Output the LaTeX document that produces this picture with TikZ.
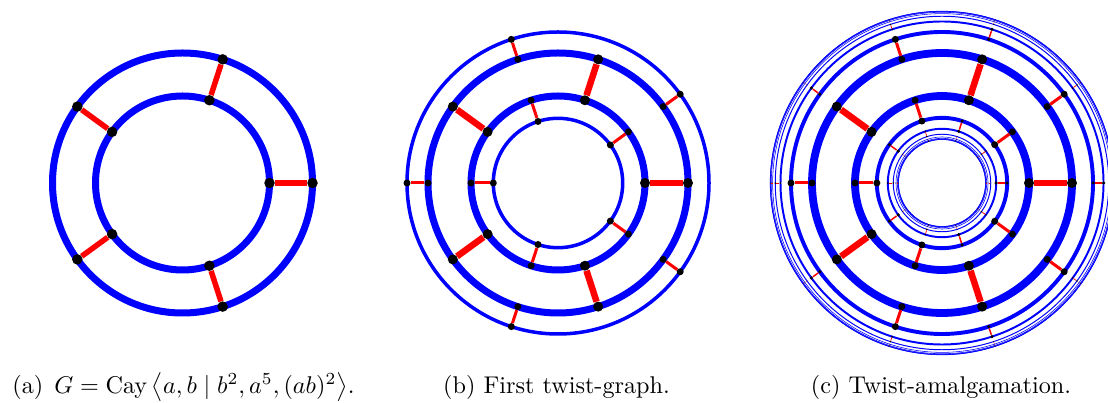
\documentclass[tikz,border=0pt]{standalone}
\tikzset{
  ring/.style={draw=blue, line width=#1},
  spoke/.style={draw=red, line width=#1},
  vdot/.style={circle, fill=black, inner sep=0pt, minimum size=#1},
  capt/.style={font=\fontsize{10}{12}\selectfont, scale=2.42, inner sep=0pt, anchor=base},
}
\begin{document}
\begin{tikzpicture}[x=1pt,y=1pt]
\useasboundingbox (0,0) rectangle (1108,403);

% ---------------- (a) ----------------
\begin{scope}[shift={(182.5,220)}]
  \draw[ring=7pt] (0,0) circle[radius=130pt];
  \draw[ring=7pt] (0,0) circle[radius=87pt];
  \foreach \j in {0,...,4}{
    \node[vdot=10.5pt] (a-O\j) at (72*\j:130pt) {};
    \node[vdot=10.5pt] (a-I\j) at (72*\j:87pt) {};
    \draw[spoke=5.5pt] (a-O\j) -- (a-I\j);
  }
\end{scope}

% ---------------- (b) ----------------
\begin{scope}[shift={(558,220)}]
  \draw[ring=7pt] (0,0) circle[radius=130pt];
  \draw[ring=7pt] (0,0) circle[radius=87pt];
  \draw[ring=3.5pt] (0,0) circle[radius=151pt];
  \draw[ring=3.5pt] (0,0) circle[radius=64.7pt];
  \foreach \j in {0,...,4}{
    \node[vdot=10pt] (b-O\j) at (72*\j:130pt) {};
    \node[vdot=10pt] (b-I\j) at (72*\j:87pt) {};
    \draw[spoke=6.5pt] (b-O\j) -- (b-I\j);
    \node[vdot=7pt] (b-Oa\j) at (36+72*\j:130pt) {};
    \node[vdot=7pt] (b-Ob\j) at (36+72*\j:151pt) {};
    \draw[spoke=3pt] (b-Oa\j) -- (b-Ob\j);
    \node[vdot=7pt] (b-Ia\j) at (36+72*\j:87pt) {};
    \node[vdot=7pt] (b-Ib\j) at (36+72*\j:64.7pt) {};
    \draw[spoke=3pt] (b-Ia\j) -- (b-Ib\j);
  }
\end{scope}

% ---------------- (c) ----------------
\begin{scope}[shift={(942,220)}]
  \foreach \k in {0,...,8}{
    \pgfmathsetmacro\R{172-42*0.5^\k}
    \pgfmathsetmacro\r{43.3+43.7*0.5^\k}
    \pgfmathsetmacro\w{max(7.8*0.5^\k,0.55)}
    \draw[ring=\w pt] (0,0) circle[radius=\R pt];
    \draw[ring=\w pt] (0,0) circle[radius=\r pt];
  }
  \foreach \j in {0,...,4}{
    \node[vdot=10pt] (c-O\j) at (72*\j:130pt) {};
    \node[vdot=10pt] (c-I\j) at (72*\j:87pt) {};
    \draw[spoke=6.5pt] (c-O\j) -- (c-I\j);
  }
  \foreach \k in {0,...,6}{
    \pgfmathsetmacro\Ra{172-42*0.5^\k}
    \pgfmathsetmacro\Rb{172-42*0.5^(\k+1)}
    \pgfmathsetmacro\ra{43.3+43.7*0.5^\k}
    \pgfmathsetmacro\rb{43.3+43.7*0.5^(\k+1)}
    \pgfmathsetmacro\off{36*mod(\k+1,2)}
    \pgfmathsetmacro\sw{max(3*0.5^\k,0.4)}
    \pgfmathsetmacro\ds{max(7*0.5^\k,0.7)}
    \foreach \j in {0,...,4}{
      \pgfmathsetmacro\ang{\off+72*\j}
      \node[vdot=\ds pt] (c-O\k-\j-a) at (\ang:\Ra pt) {};
      \node[vdot=\ds pt] (c-O\k-\j-b) at (\ang:\Rb pt) {};
      \draw[spoke=\sw pt] (c-O\k-\j-a) -- (c-O\k-\j-b);
      \node[vdot=\ds pt] (c-I\k-\j-a) at (\ang:\ra pt) {};
      \node[vdot=\ds pt] (c-I\k-\j-b) at (\ang:\rb pt) {};
      \draw[spoke=\sw pt] (c-I\k-\j-a) -- (c-I\k-\j-b);
    }
  }
\end{scope}

% ---------------- captions ----------------
\node[capt] (capA) at (183.5,9.8) {(a)\hspace{4.5pt}$G=\mathrm{Cay}\left\langle a,b \mid b^2,a^5,(ab)^2\right\rangle$.};
\node[capt] (capB) at (556.5,9.8) {(b) First twist-graph.};
\node[capt] (capC) at (941,9.8) {(c) Twist-amalgamation.};
\end{tikzpicture}
\end{document}
